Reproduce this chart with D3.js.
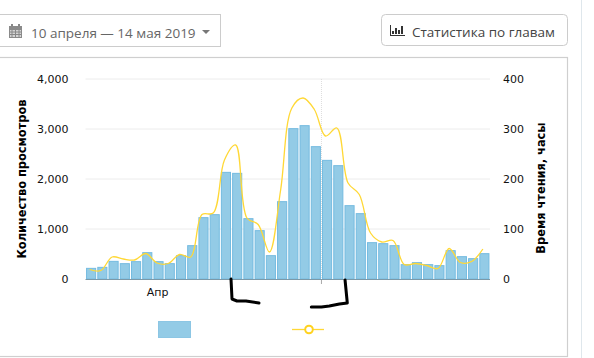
<!DOCTYPE html>
<html>
<head>
<meta charset="utf-8">
<script src="https://cdn.jsdelivr.net/npm/d3@7"></script>
<style>
    html, body { margin: 0; padding: 0; background: #fff; overflow: hidden; }
    .btn { font-family: "Open Sans", sans-serif; font-size: 13.5px; }
    .tick text { font-family: "DejaVu Sans", sans-serif; font-size: 11px; fill: #111; }
    .title { font-family: "DejaVu Sans", sans-serif; font-size: 11.4px; font-weight: bold; fill: #000; }
</style>
</head>
<body>
<svg id="chart" width="594" height="358"></svg>
<script>
// one bar per day, the first one is 10 april
const days = d3.range(36);
const views = [213, 233, 353, 307, 347, 527, 347, 307, 467, 667, 1227, 1287, 2133, 2113, 1207, 967, 467, 1547,
    3007, 3067, 2647, 2373, 2267, 1467, 1307, 727, 707, 667, 287, 327, 287, 267, 567, 447, 407, 507];
const hours = [19, 17, 44, 40, 38, 51, 32, 31, 49, 44, 129, 132, 238, 268, 122, 109, 54, 178,
    342, 362, 339, 286, 302, 192, 169, 92, 74, 77, 29, 31, 27, 21, 61, 33, 35, 60];
const viewTicks = [0, 1000, 2000, 3000, 4000];
const hourTicks = [0, 100, 200, 300, 400];
const monthLabel = "Апр";
const monthLabelDay = 6;
const monthStartDay = 21;
const leftTitle = "Количество просмотров";
const rightTitle = "Время чтения, часы";
const dateRange = "10 апреля — 14 мая 2019";
const statsLabel = "Статистика по главам";

// pen marks on top of the chart, as [day position, views]
const penLeft = [[12.45, 0], [12.54, -400], [12.98, -440], [13.78, -440], [14.94, -480]];
const penRight = [[22.6, -20], [22.8, -480], [22.1, -500], [21.2, -540], [20.5, -560], [19.6, -560]];

const svg = d3.select("#chart");
const margin = {top: 79, right: 104, bottom: 79, left: 85.5};
const width = 594 - margin.left - margin.right;
const height = 358 - margin.top - margin.bottom;

// page furniture
svg.append("rect").attr("x", 581.5).attr("y", -2).attr("width", 20).attr("height", 362)
    .attr("fill", "#fff").attr("stroke", "#dfe7ec");
svg.append("rect").attr("x", -5).attr("y", 57.5).attr("width", 572.5).attr("height", 299)
    .attr("fill", "#fff").attr("stroke", "#cfcfcf").attr("stroke-width", 1.2);
svg.append("rect").attr("x", -5).attr("y", 14.5).attr("width", 225.5).attr("height", 32)
    .attr("fill", "#fff").attr("stroke", "#ccc");
svg.append("rect").attr("x", 381.5).attr("y", 14.5).attr("width", 186).attr("height", 31).attr("rx", 4)
    .attr("fill", "#fff").attr("stroke", "#ccc");

// calendar icon
const cal = svg.append("g").attr("transform", "translate(9,26)");
cal.append("rect").attr("width", 13).attr("height", 12).attr("fill", "#8a8a8a");
cal.append("rect").attr("x", 1).attr("y", 4).attr("width", 11).attr("height", 7).attr("fill", "#d5d5d5");
cal.selectAll("line.c").data(d3.range(3)).join("line")
    .attr("x1", d => 3 + d * 3.5).attr("x2", d => 3 + d * 3.5).attr("y1", 4).attr("y2", 11)
    .attr("stroke", "#888");
cal.selectAll("line.r").data(d3.range(2)).join("line")
    .attr("x1", 1).attr("x2", 12).attr("y1", d => 6 + d * 2.5).attr("y2", d => 6 + d * 2.5)
    .attr("stroke", "#888");
cal.selectAll("rect.ear").data([2, 9]).join("rect").attr("class", "ear")
    .attr("x", d => d).attr("y", -2).attr("width", 2).attr("height", 3).attr("fill", "#888");

svg.append("text").attr("class", "btn").attr("x", 31).attr("y", 38).attr("fill", "#666").text(dateRange);
svg.append("path").attr("d", "M202 30h8l-4 4z").attr("fill", "#777");

// bar chart icon
const ico = svg.append("g").attr("transform", "translate(390,25)").attr("fill", "#333");
ico.append("rect").attr("x", 0).attr("y", 0).attr("width", 1).attr("height", 11);
ico.append("rect").attr("x", 0).attr("y", 10).attr("width", 15).attr("height", 1);
ico.selectAll("rect.b").data([[2, 6], [5, 3], [8, 5], [11, 1]]).join("rect").attr("class", "b")
    .attr("x", d => d[0]).attr("y", d => d[1]).attr("width", 2).attr("height", d => 9 - d[1]);

svg.append("text").attr("class", "btn").attr("x", 412).attr("y", 37).attr("fill", "#444").text(statsLabel);

const g = svg.append("g").attr("transform", `translate(${margin.left}, ${margin.top})`);

const x = d3.scaleBand().domain(days).range([0, width]).paddingInner(0.1).paddingOuter(0.05);
const step = x.step();
const pos = d => x(0) + x.bandwidth() / 2 + d * step;
const y = d3.scaleLinear().domain([0, 4000]).range([height, 0]);
const yHours = d3.scaleLinear().domain([0, 400]).range([height, 0]);

// grid
g.selectAll("line.grid").data(viewTicks.slice(1)).join("line").attr("class", "grid")
    .attr("x1", 0).attr("x2", width).attr("y1", d => y(d)).attr("y2", d => y(d))
    .attr("stroke", "#ececec");
const monthX = pos(monthStartDay) - step / 2;
g.append("line").attr("x1", monthX).attr("x2", monthX).attr("y1", 0).attr("y2", height)
    .attr("stroke", "#ddd").attr("stroke-dasharray", "1,1");
g.append("line").attr("x1", monthX).attr("x2", monthX).attr("y1", height).attr("y2", height + 5)
    .attr("stroke", "#aaa");

// axes
g.append("g").attr("transform", "translate(-14,0)")
    .call(d3.axisLeft(y).tickValues(viewTicks).tickFormat(d3.format(",")).tickSize(0))
    .call(a => a.select(".domain").remove());
g.append("g").attr("transform", `translate(${width + 10},0)`)
    .call(d3.axisRight(yHours).tickValues(hourTicks).tickSize(0))
    .call(a => a.select(".domain").remove());
g.append("g").attr("transform", `translate(-1.5,${height})`)
    .call(d3.axisBottom(d3.scaleLinear().domain([0, width]).range([0, width]))
        .tickValues([pos(monthLabelDay)]).tickFormat(() => monthLabel).tickSize(0).tickPadding(9))
    .call(a => a.select(".domain").remove());

svg.append("text").attr("class", "title").attr("text-anchor", "middle")
    .attr("transform", "translate(26,179) rotate(-90)").text(leftTitle);
svg.append("text").attr("class", "title").attr("text-anchor", "middle")
    .attr("transform", "translate(545,188) rotate(-90)").text(rightTitle);

// bars
g.selectAll("rect.bar").data(views).join("rect").attr("class", "bar")
    .attr("x", (d, i) => x(i) + 0.5)
    .attr("y", d => y(d))
    .attr("width", x.bandwidth() - 1)
    .attr("height", d => height - y(d))
    .attr("fill", "#93cbe6")
    .attr("stroke", "#74bbe0")
    .attr("stroke-width", 1);
g.append("line").attr("x1", 0).attr("x2", width).attr("y1", height + 0.5).attr("y2", height + 0.5)
    .attr("stroke", "#7c99a8");

// reading time line, its points sit a bit left of the bar centers
const line = d3.line()
    .x((d, i) => pos(i) - 1.5)
    .y(d => yHours(d))
    .curve(d3.curveCatmullRom.alpha(0.5));
g.append("path").datum(hours).attr("d", line)
    .attr("fill", "none").attr("stroke", "#ffd836").attr("stroke-width", 1.3);

// legend
svg.append("rect").attr("x", 158.5).attr("y", 321.5).attr("width", 32).attr("height", 16)
    .attr("fill", "#93cbe6").attr("stroke", "#8cc6e4");
svg.append("line").attr("x1", 292).attr("x2", 324).attr("y1", 329.5).attr("y2", 329.5)
    .attr("stroke", "#ffd836").attr("stroke-width", 1.3);
svg.append("circle").attr("cx", 309).attr("cy", 329.5).attr("r", 3.8)
    .attr("fill", "#fff").attr("stroke", "#ffd21f").attr("stroke-width", 2);

// pen marks
const pen = d3.line().x(d => pos(d[0])).y(d => y(d[1]));
[penLeft, penRight].forEach(p => {
    g.append("path").datum(p).attr("d", pen)
        .attr("fill", "none").attr("stroke", "#000").attr("stroke-width", 3)
        .attr("stroke-linecap", "round").attr("stroke-linejoin", "round");
});
</script>
</body>
</html>
